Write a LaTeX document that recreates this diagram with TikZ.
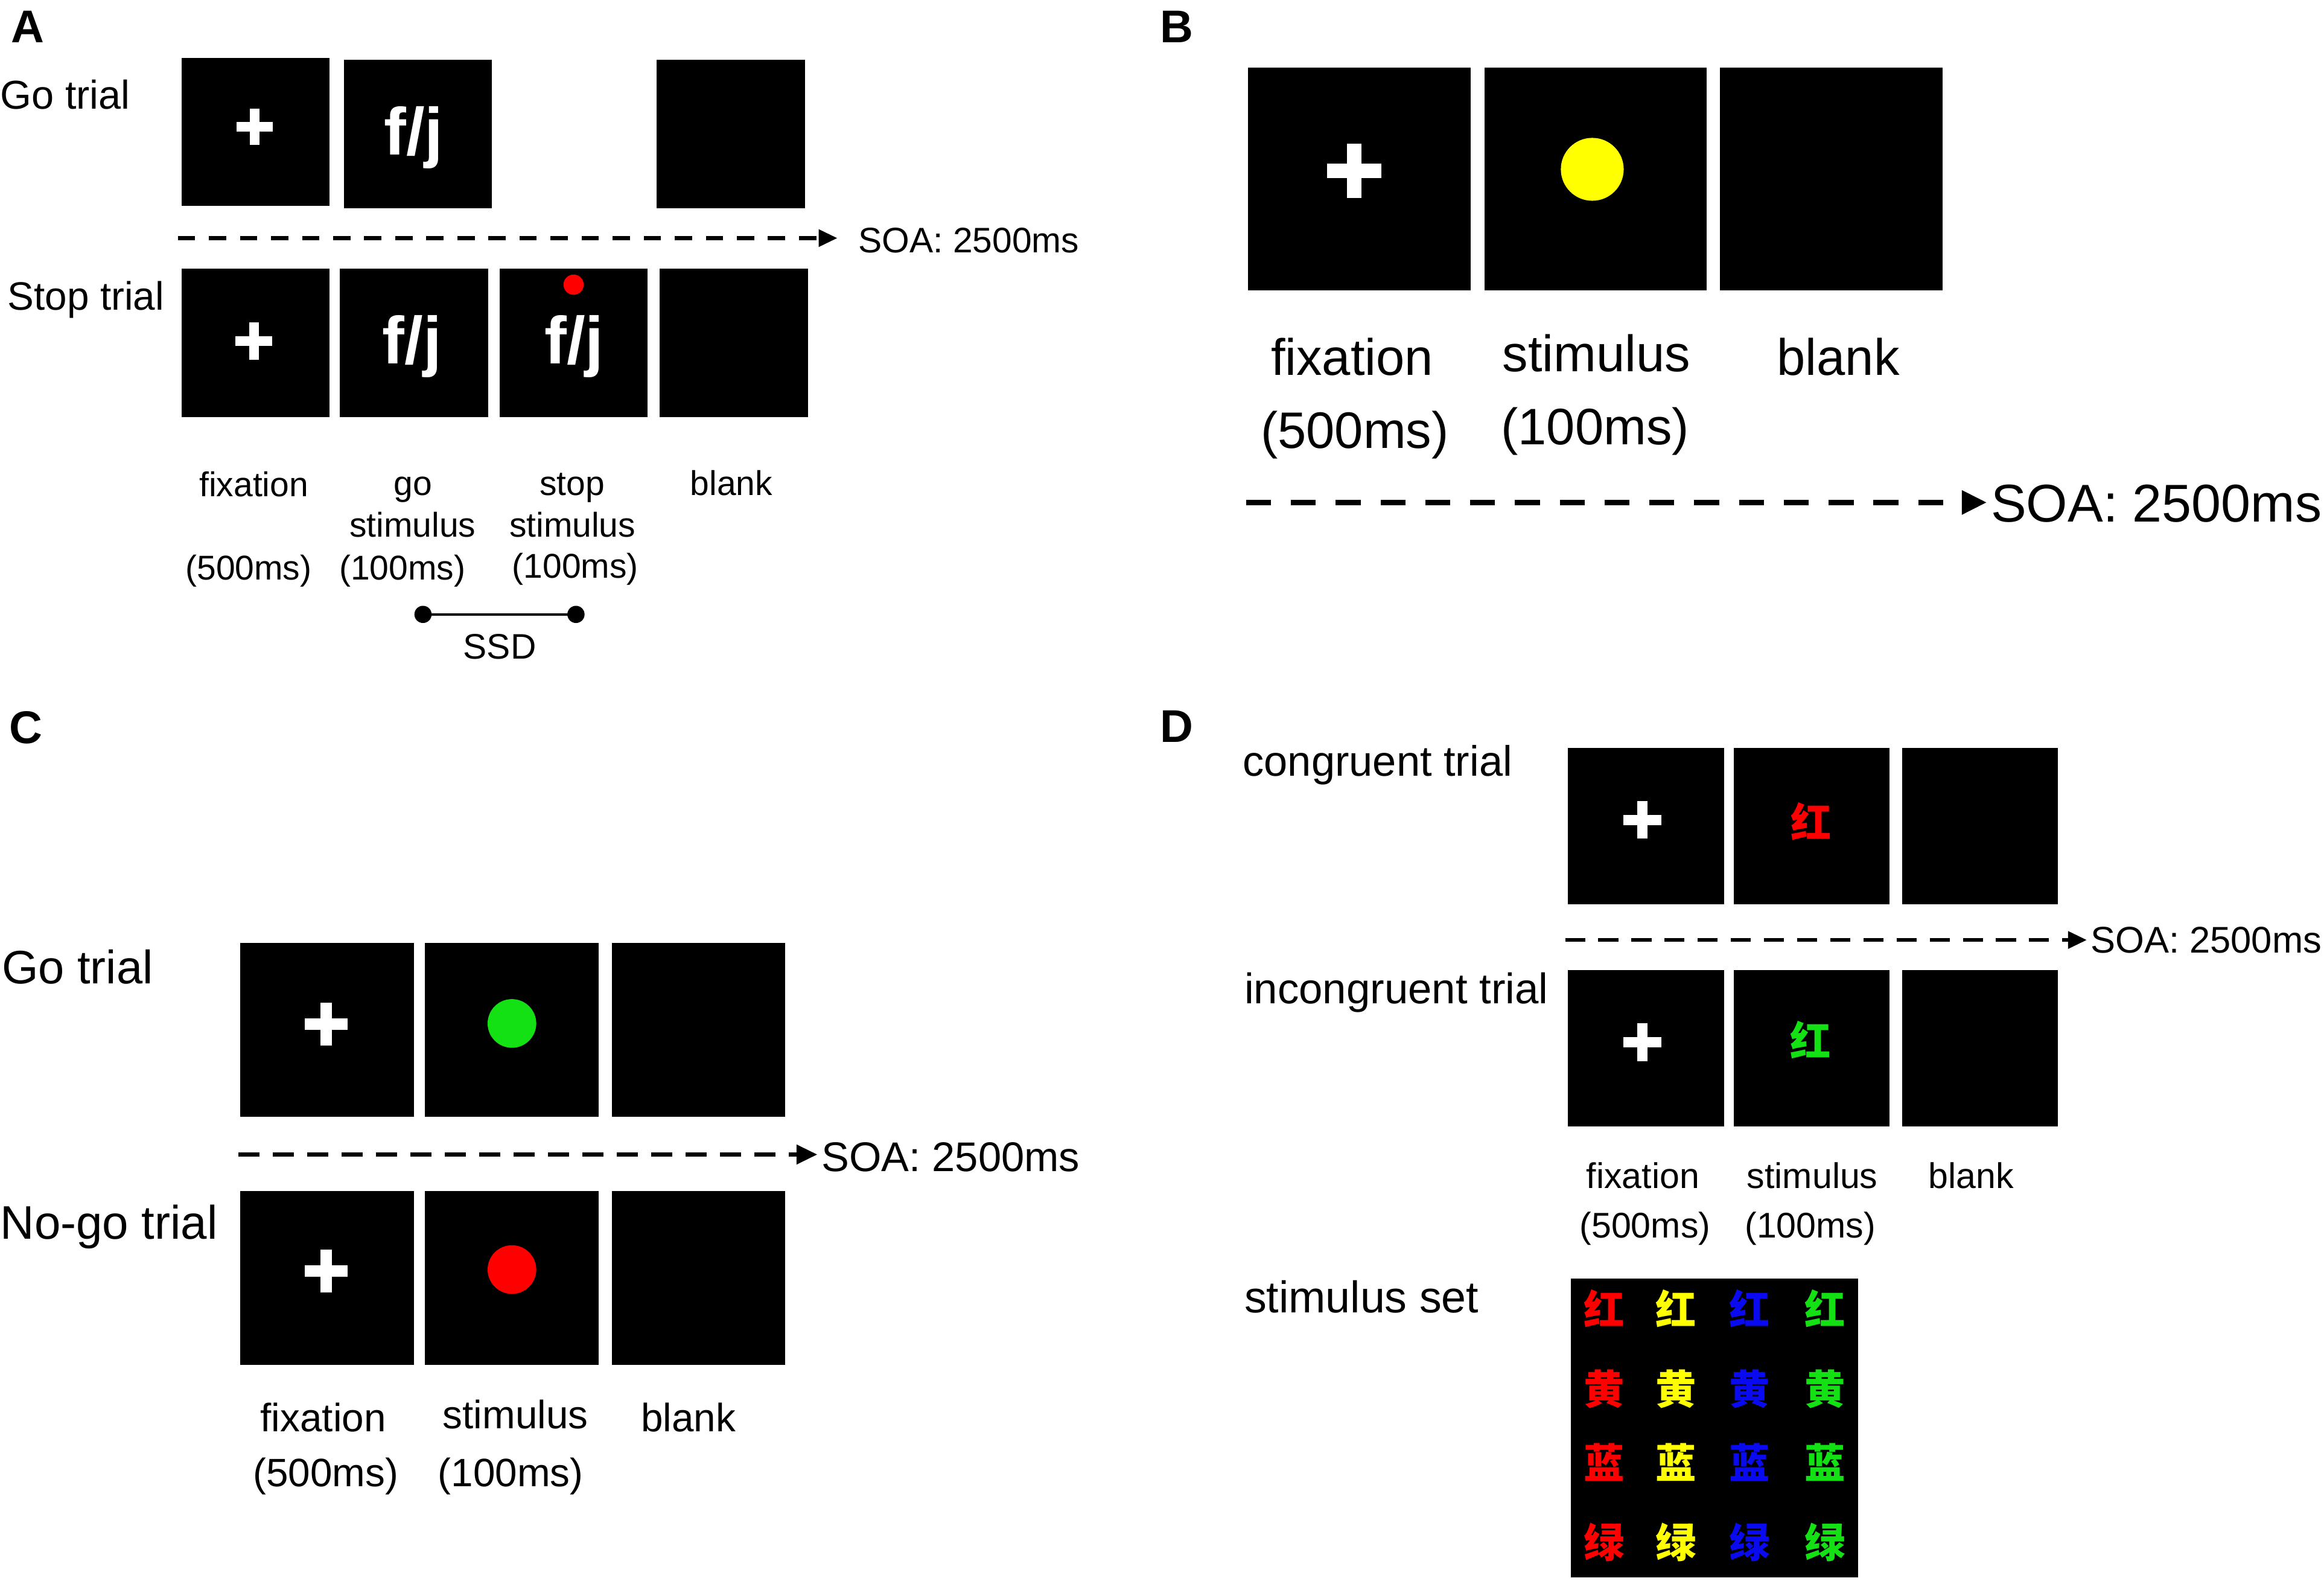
\documentclass[tikz,border=0pt]{standalone}
\usepackage{fontspec}
\setmainfont{Liberation Sans}
\newfontfamily\hanzifont{Noto Sans CJK SC}
\usetikzlibrary{arrows.meta}

\definecolor{stimred}{RGB}{255,0,0}
\definecolor{stimyellow}{RGB}{255,255,0}
\definecolor{stimblue}{RGB}{10,10,240}
\definecolor{stimgreen}{RGB}{20,225,20}

\newcommand{\fsz}[1]{\fontsize{#1pt}{#1pt}\selectfont}

\tikzstyle{screen}=[fill=black, inner sep=0pt, outer sep=0pt]
\tikzstyle{lbl}=[inner sep=0pt, anchor=base]
\tikzstyle{panel}=[inner sep=0pt, anchor=center, font=\bfseries\fsz{22}]
\tikzstyle{hanzi}=[inner sep=0pt, anchor=center, font=\hanzifont\bfseries\fsz{19.5}]

\begin{document}
\begin{tikzpicture}[x=0.025cm, y=-0.025cm]
	\useasboundingbox (0,0) rectangle (1568,1066);

	% % Panel A: stop signal
	\node[panel] (labA) at (18.7,18) {A};
	\node[lbl, anchor=base west, font=\fsz{19.3}] (goA) at (0,73.3) {Go trial};
	\node[lbl, anchor=base west, font=\fsz{19}] (stopA) at (5,209) {Stop trial};

	\foreach \n/\x/\y in {go1/172.5/89, go2/282/90.5, go4/493/90.5, stop1/172.5/231.3, stop2/279.3/231.3, stop3/387/231.3, stop4/495/231.3} {
		\node[screen, minimum size=25mm] (A\n) at (\x,\y) {};
	}
	\foreach \n/\x/\y in {1/279.1/104.5, 2/278/245.4, 3/387.4/245.4} {
		\node[lbl, text=white, font=\bfseries\fsz{32}] (fjA\n) at (\x,\y) {f/j};
	}
	\fill[stimred] (387,192) circle (1.7mm);

	\coordinate (soaA0) at (120,160.6);
	\coordinate (soaA1) at (565,160.6);
	\draw[line width=1.9pt, dash pattern=on 8.3pt off 6.6pt, -{Triangle[length=9pt,width=8pt]}] (soaA0) -- (soaA1);
	\node[lbl, anchor=base west, font=\fsz{17}] (soaAtxt) at (579,170.5) {SOA: 2500ms};

	\foreach \x/\y/\txt in {171.3/335/fixation, 167.7/391/(500ms), 278.6/334/go, 278.4/362/stimulus, 271.4/391/(100ms), 386/334/stop, 386.2/362/stimulus, 388.2/390/(100ms), 493.5/334/blank} {
		\node[lbl, font=\fsz{16.5}] at (\x,\y) {\txt};
	}

	\coordinate (ssd0) at (285.4,414.4);
	\coordinate (ssd1) at (388.6,414.4);
	\draw[line width=1.2pt] (ssd0) -- (ssd1);
	\fill (ssd0) circle (1.45mm);
	\fill (ssd1) circle (1.45mm);
	\node[lbl, font=\fsz{17}] (ssdtxt) at (337.2,444.5) {SSD};

	% % Panel B
	\node[panel] (labB) at (794,18) {B};
	\foreach \n/\x in {1/917.2, 2/1076.5, 3/1235.6} {
		\node[screen, minimum size=37.5mm] (B\n) at (\x,120.8) {};
	}
	\fill[stimyellow] (1074.3,114.2) circle (5.3mm);

	\foreach \x/\y/\txt in {912.3/253.2/fixation, 914/302.5/(500ms), 1077.2/250.6/stimulus, 1076.2/300/(100ms), 1240.3/253.2/blank} {
		\node[lbl, font=\fsz{24.6}] at (\x,\y) {\txt};
	}

	\coordinate (soaB0) at (840.7,338.9);
	\coordinate (soaB1) at (1340.5,338.9);
	\draw[line width=2.8pt, dash pattern=on 12pt off 9.5pt, -{Triangle[length=12pt,width=11pt]}] (soaB0) -- (soaB1);
	\node[lbl, anchor=base west, font=\fsz{25.5}] (soaBtxt) at (1343,351.9) {SOA: 2500ms};

	% % Panel C: go/no-go
	\node[panel] (labC) at (17.5,490.6) {C};
	\node[lbl, anchor=base west, font=\fsz{22.5}] (goC) at (1,663.3) {Go trial};
	\node[lbl, anchor=base west, font=\fsz{22.6}] (nogoC) at (0,835.9) {No-go trial};

	\foreach \n/\x in {1/220.5, 2/345.4, 3/471.3} {
		\node[screen, minimum size=29.3mm] (Cgo\n) at (\x,694.7) {};
		\node[screen, minimum size=29.3mm] (Cnogo\n) at (\x,862) {};
	}
	\fill[stimgreen] (345.4,690.3) circle (4.1mm);
	\fill[stimred] (345.4,856.3) circle (4.1mm);

	\coordinate (soaC0) at (161,778.7);
	\coordinate (soaC1) at (551.5,778.7);
	\draw[line width=2.1pt, dash pattern=on 10pt off 6.5pt, -{Triangle[length=10pt,width=9pt]}] (soaC0) -- (soaC1);
	\node[lbl, anchor=base west, font=\fsz{19.9}] (soaCtxt) at (554,790.1) {SOA: 2500ms};

	\foreach \x/\y/\txt in {218.1/965.4/fixation, 219.8/1002.7/(500ms), 347.8/963.5/stimulus, 344.5/1002.7/(100ms), 464.4/965.4/blank} {
		\node[lbl, font=\fsz{19}] at (\x,\y) {\txt};
	}

	% % Panel D: Stroop
	\node[panel] (labD) at (794,490) {D};
	\node[lbl, anchor=base west, font=\fsz{20.4}] (congD) at (838.3,523.4) {congruent trial};
	\node[lbl, anchor=base west, font=\fsz{20.5}] (incongD) at (839.3,677) {incongruent trial};
	\node[lbl, anchor=base west, font=\fsz{21.3}] (setD) at (839.3,885.4) {stimulus set};

	\foreach \n/\x in {1/1110.6, 2/1222.4, 3/1336} {
		\node[screen, minimum size=26.3mm] (Dcong\n) at (\x,557.2) {};
		\node[screen, minimum size=26.3mm] (Dincong\n) at (\x,707) {};
	}
	\node[hanzi, text=stimred] (wordcong) at (1222,554) {红};
	\node[hanzi, text=stimgreen] (wordincong) at (1221.5,701.5) {红};

	\coordinate (soaD0) at (1056,634);
	\coordinate (soaD1) at (1408,634);
	\draw[line width=1.9pt, dash pattern=on 9.6pt off 6.3pt, -{Triangle[length=9pt,width=8pt]}] (soaD0) -- (soaD1);
	\node[lbl, anchor=base west, font=\fsz{17.8}] (soaDtxt) at (1410.3,642.7) {SOA: 2500ms};

	\foreach \x/\y/\txt in {1108.5/801.6/fixation, 1109.9/835/(500ms), 1222.8/801.6/stimulus, 1221.4/835/(100ms), 1330/801.6/blank} {
		\node[lbl, font=\fsz{17.1}] at (\x,\y) {\txt};
	}

	% stimulus set
	\node[screen, minimum width=48.5mm, minimum height=50.4mm] (setbox) at (1156.8,963.2) {};
	\foreach \c/\x in {stimred/1082.3, stimyellow/1130.6, stimblue/1180.5, stimgreen/1231.3} {
		\foreach \ch/\y in {红/882.6, 黄/936.7, 蓝/986.3, 绿/1040.2} {
			\node[hanzi, text=\c] at (\x,\y) {\ch};
		}
	}

	% % Fixation crosses
	\foreach \x/\y/\armlen/\armwd in {171.8/85.6/24.5/6.6, 171.3/230/25/6.6, 913.7/115.2/37/10, 220/690.7/29/7.8, 220/857.4/29/7.8, 1108.2/553/25.5/6.9, 1108.2/703/25.5/6.9} {
		\fill[white] ({\x-\armlen/2},{\y-\armwd/2}) rectangle ({\x+\armlen/2},{\y+\armwd/2});
		\fill[white] ({\x-\armwd/2},{\y-\armlen/2}) rectangle ({\x+\armwd/2},{\y+\armlen/2});
	}

\end{tikzpicture}
\end{document}
